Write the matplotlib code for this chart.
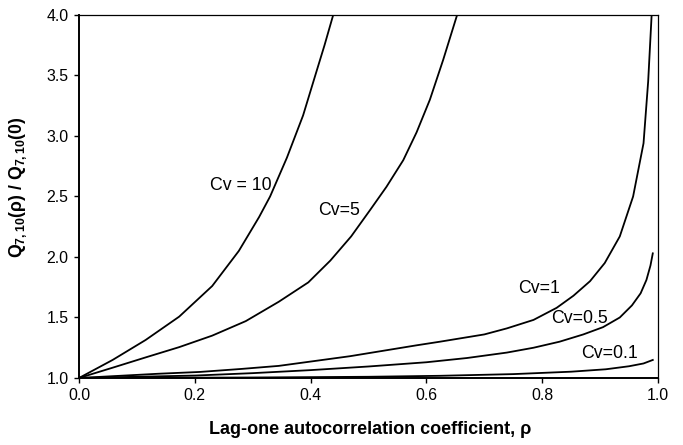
import matplotlib
matplotlib.use('Agg')
import matplotlib.pyplot as plt
from matplotlib.ticker import FormatStrFormatter

plt.rcParams['font.family'] = ['Liberation Sans', 'DejaVu Sans']
plt.rcParams['mathtext.fontset'] = 'custom'
plt.rcParams['mathtext.rm'] = 'Liberation Sans:bold'
plt.rcParams['mathtext.bf'] = 'Liberation Sans:bold'

# values
rho_10 = [0.0, 0.058, 0.115, 0.173, 0.230, 0.276, 0.311, 0.330, 0.359, 0.387, 0.408, 0.424, 0.439]
q_10 = [1.0, 1.149, 1.314, 1.507, 1.76, 2.05, 2.33, 2.50, 2.82, 3.17, 3.5, 3.75, 4.0]

rho_5 = [0.0, 0.058, 0.115, 0.173, 0.230, 0.288, 0.345, 0.396, 0.434, 0.470, 0.503, 0.531,
         0.560, 0.583, 0.606, 0.629, 0.653]
q_5 = [1.0, 1.085, 1.17, 1.255, 1.35, 1.47, 1.63, 1.79, 1.97, 2.17, 2.39, 2.58,
       2.80, 3.03, 3.30, 3.63, 4.0]

rho_1 = [0.0, 0.137, 0.209, 0.281, 0.345, 0.468, 0.583, 0.6235, 0.70, 0.739, 0.785, 0.825,
         0.854, 0.8826, 0.908, 0.934, 0.957, 0.975, 0.983, 0.989]
q_1 = [1.0, 1.035, 1.05, 1.075, 1.10, 1.18, 1.27, 1.30, 1.36, 1.41, 1.48, 1.58,
       1.68, 1.80, 1.95, 2.17, 2.50, 2.94, 3.45, 4.0]

rho_05 = [0.0, 0.2, 0.3, 0.4, 0.5, 0.6, 0.67, 0.739, 0.785, 0.83, 0.871, 0.905, 0.934,
          0.955, 0.970, 0.980, 0.987, 0.991]
q_05 = [1.0, 1.02, 1.04, 1.065, 1.095, 1.13, 1.165, 1.21, 1.25, 1.30, 1.36, 1.42, 1.50,
        1.60, 1.70, 1.81, 1.93, 2.03]

rho_01 = [0.0, 0.3, 0.5, 0.623, 0.75, 0.85, 0.91, 0.95, 0.975, 0.991]
q_01 = [1.0, 1.004, 1.01, 1.018, 1.032, 1.052, 1.072, 1.097, 1.12, 1.149]

labels = ['Cv = 10', 'Cv=5', 'Cv=1', 'Cv=0.5', 'Cv=0.1']
label_x = [0.2795, 0.449, 0.795, 0.865, 0.916]
label_y = [2.554, 2.347, 1.70, 1.452, 1.163]

fig = plt.figure(figsize=(6.83, 4.45), dpi=100)
ax = fig.add_axes([0.1157, 0.1506, 0.8477, 0.8157])

for x, y in [(rho_10, q_10), (rho_5, q_5), (rho_1, q_1), (rho_05, q_05), (rho_01, q_01)]:
    ax.plot(x, y, color='black', linewidth=1.3)

for lbl, x, y in zip(labels, label_x, label_y):
    ax.text(x, y, lbl, fontsize=12.8, ha='center', va='baseline')

ax.set_xlim(0, 1)
ax.set_ylim(1, 4)
ax.set_xticks([0.0, 0.2, 0.4, 0.6, 0.8, 1.0])
ax.set_yticks([1.0, 1.5, 2.0, 2.5, 3.0, 3.5, 4.0])
ax.xaxis.set_major_formatter(FormatStrFormatter('%.1f'))
ax.yaxis.set_major_formatter(FormatStrFormatter('%.1f'))
ax.tick_params(direction='out', length=3.5, width=1.0, labelsize=11.4, pad=4,
               top=False, right=False)
ax.spines['left'].set_linewidth(1.4)
ax.spines['bottom'].set_linewidth(1.4)
ax.spines['top'].set_linewidth(0.9)
ax.spines['right'].set_linewidth(0.9)

fig.text(370 / 683, 1 - 430 / 445, 'Lag-one autocorrelation coefficient, ρ',
         fontsize=13, fontweight='bold', ha='center', va='center')
fig.text(18 / 683, 1 - 187 / 445, r'Q$_{7,10}$(ρ) / Q$_{7,10}$(0)',
         fontsize=12.7, fontweight='bold', ha='center', va='center', rotation=90)

fig.savefig('out.png', dpi=100)
